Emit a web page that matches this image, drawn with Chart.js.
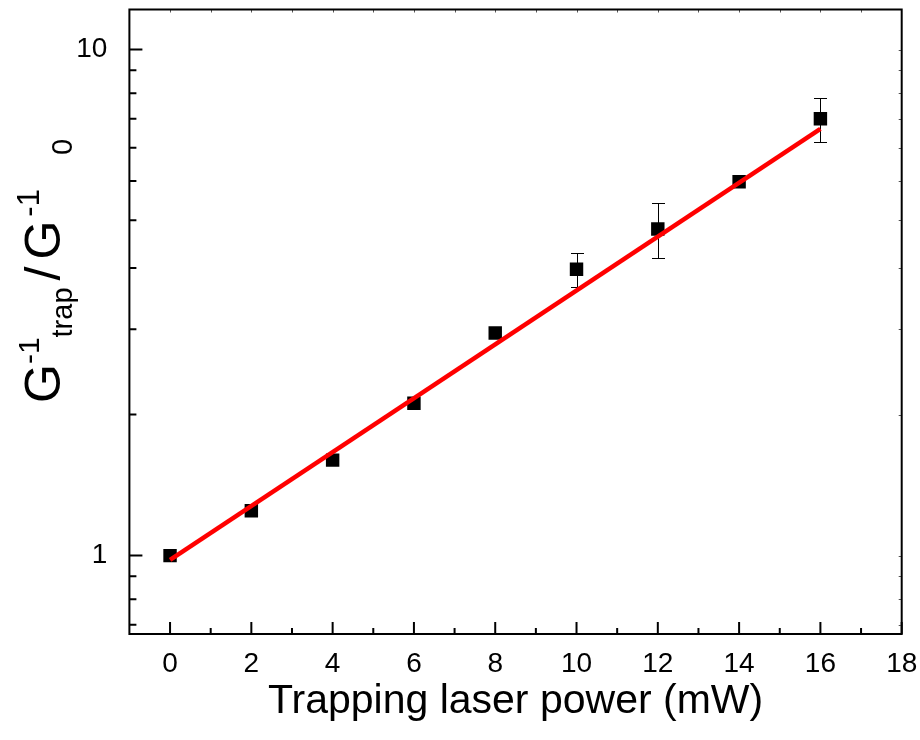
<!DOCTYPE html>
<html><head><meta charset="utf-8">
<script src="https://cdn.jsdelivr.net/npm/chart.js@4.4.0/dist/chart.umd.min.js"></script>
<style>html,body{margin:0;padding:0;background:#fff}#wrap{width:920px;height:740px;position:relative}</style>
</head><body><div id="wrap"><canvas id="c"></canvas></div>
<script>
// ---- data ----
const powers   = [0, 2, 4, 6, 8, 10, 12, 14, 16];
const ratios   = [1.0, 1.226, 1.544, 2.0, 2.754, 3.68, 4.42, 5.48, 7.30];
const ratioErr = [0, 0, 0, 0, 0, 0.29, 0.55, 0, 0.74];
const fitX = [0, 16];
const fitY = [0.981, 6.97];
const xTicks = [0, 2, 4, 6, 8, 10, 12, 14, 16, 18];
const xMinorTicks = [1, 3, 5, 7, 9, 11, 13, 15, 17];
const topTicks = [0, 1, 2, 3, 4, 5, 6, 7, 8, 9, 10, 11, 12, 13, 14, 15, 16, 17];
const yTicks = [1, 10];
const yMinorTicks = [0.73, 0.82, 0.91, 1.9, 2.8, 3.7, 4.6, 5.5, 6.4, 7.3, 8.2, 9.1];
const xTitle = 'Trapping laser power (mW)';

const FONT = '"Liberation Sans", Arial, sans-serif';

const framePlugin = {
  id: 'frame',
  beforeDatasetsDraw(chart) {
    const ctx = chart.ctx, xs = chart.scales.x, ys = chart.scales.y;
    ctx.save();
    ctx.strokeStyle = '#000';
    ctx.lineWidth = 1;
    ratios.forEach((v, i) => {
      const e = ratioErr[i];
      if (!e) return;
      const px = Math.round(xs.getPixelForValue(powers[i])) + 0.5;
      const y1 = Math.round(ys.getPixelForValue(v + e)) + 0.5, y2 = Math.round(ys.getPixelForValue(v - e)) + 0.5;
      ctx.beginPath();
      ctx.moveTo(px, y1); ctx.lineTo(px, y2);
      ctx.moveTo(px - 6.5, y1); ctx.lineTo(px + 6.5, y1);
      ctx.moveTo(px - 6.5, y2); ctx.lineTo(px + 6.5, y2);
      ctx.stroke();
    });
    ctx.restore();
  },
  afterDraw(chart) {
    const ctx = chart.ctx, a = chart.chartArea, xs = chart.scales.x, ys = chart.scales.y;
    ctx.save();
    ctx.strokeStyle = '#000';
    ctx.lineWidth = 2;
    ctx.beginPath();
    xTicks.forEach(v => { const p = xs.getPixelForValue(v); ctx.moveTo(p, a.bottom); ctx.lineTo(p, a.bottom - 12); });
    xMinorTicks.forEach(v => { const p = xs.getPixelForValue(v); ctx.moveTo(p, a.bottom); ctx.lineTo(p, a.bottom - 6); });
    yTicks.forEach(v => { const p = ys.getPixelForValue(v); ctx.moveTo(a.left, p); ctx.lineTo(a.left + 13, p); });
    yMinorTicks.forEach(v => { const p = ys.getPixelForValue(v); ctx.moveTo(a.left, p); ctx.lineTo(a.left + 7, p); });
    ctx.stroke();
    ctx.lineWidth = 1;
    ctx.strokeStyle = '#555';
    ctx.beginPath();
    topTicks.forEach(v => { const p = Math.round(xs.getPixelForValue(v)) + 0.5; ctx.moveTo(p, a.top); ctx.lineTo(p, a.top + 3); });
    yTicks.concat(yMinorTicks).forEach(v => { const p = Math.round(ys.getPixelForValue(v)) + 0.5; ctx.moveTo(a.right, p); ctx.lineTo(a.right - 3, p); });
    ctx.stroke();
    ctx.strokeStyle = '#000';
    ctx.lineWidth = 2;
    ctx.strokeRect(a.left, a.top, a.right - a.left, a.bottom - a.top);
    // x title
    ctx.fillStyle = '#000';
    ctx.font = '41px ' + FONT;
    ctx.textAlign = 'center';
    ctx.textBaseline = 'alphabetic';
    ctx.fillText(xTitle, (a.left + a.right) / 2, 713);
    // y title with super/subscripts (gap = extra space before the piece)
    const segs = [
      { t: 'G', s: 50, dy: 0, gap: 0 },
      { t: '-1', s: 30, dy: -21, gap: 0 },
      { t: 'trap', s: 29, dy: 12, gap: 0 },
      { t: '/', s: 50, dy: 0, gap: 7 },
      { t: 'G', s: 50, dy: 0, gap: 7 },
      { t: '-1', s: 31, dy: -21, gap: 4 },
      { t: '0', s: 29, dy: 12, gap: 34 }
    ];
    ctx.translate(60, 403);
    ctx.rotate(-Math.PI / 2);
    ctx.textAlign = 'left';
    let x = 0;
    segs.forEach(g => {
      ctx.font = g.s + 'px ' + FONT;
      x += g.gap;
      ctx.fillText(g.t, x, g.dy);
      x += ctx.measureText(g.t).width;
    });
    ctx.restore();
  }
};

new Chart(document.getElementById('c'), {
  data: {
    datasets: [
      {
        type: 'line',
        data: fitX.map((x, i) => ({ x, y: fitY[i] })),
        borderColor: '#ff0000',
        borderWidth: 4.5,
        pointRadius: 0,
        fill: false,
        order: 0
      },
      {
        type: 'scatter',
        data: powers.map((x, i) => ({ x, y: ratios[i] })),
        pointStyle: 'rect',
        pointRadius: 9.5,
        pointHoverRadius: 9.5,
        backgroundColor: '#000',
        borderColor: '#000',
        borderWidth: 0,
        order: 1
      }
    ]
  },
  options: {
    responsive: true,
    maintainAspectRatio: false,
    animation: false,
    events: [],
    layout: { padding: { top: 7.5, right: 18.3, left: 0, bottom: 0 } },
    plugins: { legend: { display: false }, tooltip: { enabled: false } },
    scales: {
      x: {
        type: 'linear', min: -1, max: 18,
        afterBuildTicks: s => { s.ticks = xTicks.map(v => ({ value: v })); },
        afterFit: s => { s.height = 106; s.paddingLeft = 0; s.paddingRight = 0; },
        grid: { display: false }, border: { display: false },
        ticks: { font: { size: 28, family: FONT }, color: '#000', padding: 5, maxRotation: 0, autoSkip: false }
      },
      y: {
        type: 'logarithmic', min: 0.7, max: 12,
        afterBuildTicks: s => { s.ticks = yTicks.map(v => ({ value: v })); },
        afterFit: s => { s.width = 129.4; s.paddingTop = 0; s.paddingBottom = 0; },
        grid: { display: false }, border: { display: false },
        ticks: { font: { size: 28, family: FONT }, color: '#000', padding: 14, autoSkip: false, callback: v => String(v) }
      }
    }
  },
  plugins: [framePlugin]
});
</script></body></html>
